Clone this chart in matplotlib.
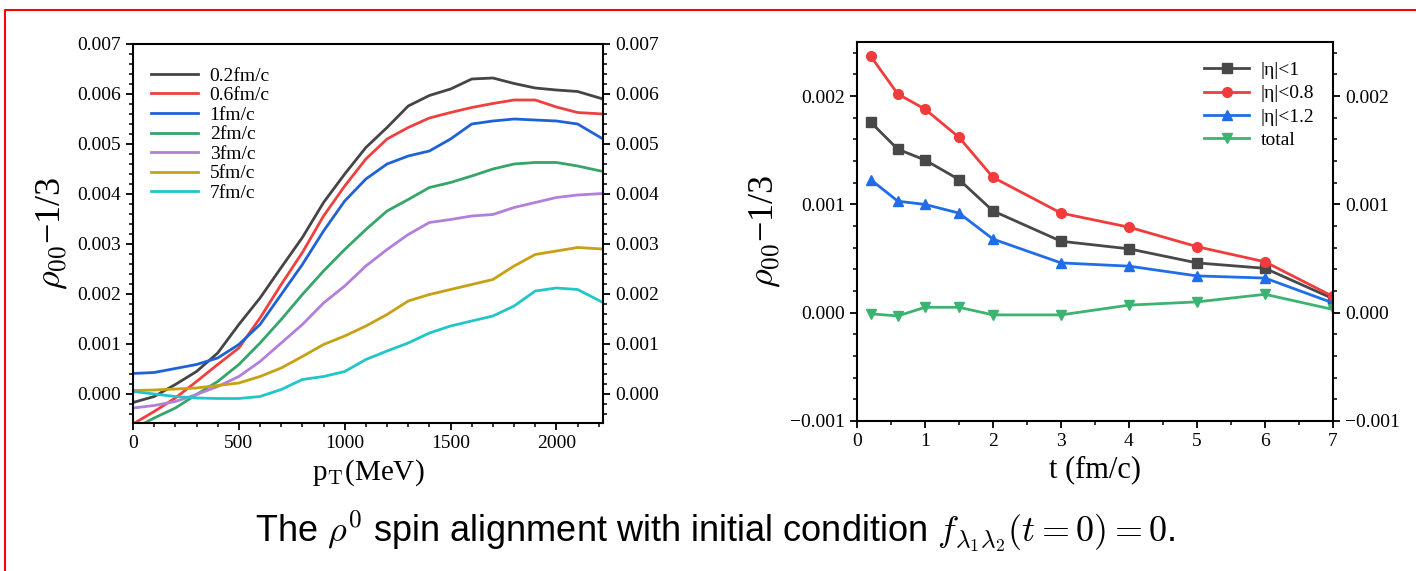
import matplotlib
matplotlib.use("Agg")
import matplotlib.pyplot as plt
from matplotlib.ticker import MultipleLocator, FuncFormatter
from matplotlib.lines import Line2D

plt.rcParams['font.family'] = ['Liberation Serif', 'DejaVu Serif']
plt.rcParams['mathtext.fontset'] = 'cm'

# left panel: rho00 - 1/3 vs pT for several times
pt = [0, 100, 200, 300, 400, 500, 600, 700, 800, 900, 1000, 1100,
      1200, 1300, 1400, 1500, 1600, 1700, 1800, 1900, 2000, 2100, 2220]
rho_02 = [-0.00017, -0.00005, 0.00019, 0.00045, 0.00082, 0.00139, 0.00192, 0.00253,
          0.00313, 0.00383, 0.0044, 0.00493, 0.00533, 0.00576, 0.00597, 0.0061,
          0.0063, 0.00632, 0.00621, 0.00612, 0.00608, 0.00605, 0.0059]
rho_06 = [-0.0006, -0.00035, -0.00008, 0.00025, 0.00059, 0.00092, 0.00152, 0.00219,
          0.00283, 0.00356, 0.00416, 0.0047, 0.0051, 0.00533, 0.00552, 0.00563,
          0.00573, 0.00581, 0.00588, 0.00588, 0.00574, 0.00563, 0.0056]
rho_1 = [0.00041, 0.00043, 0.00051, 0.00059, 0.00072, 0.00099, 0.00139, 0.00199,
         0.00259, 0.00326, 0.00386, 0.0043, 0.0046, 0.00476, 0.00486, 0.0051,
         0.0054, 0.00546, 0.0055, 0.00548, 0.00546, 0.0054, 0.0051]
rho_2 = [-0.0007, -0.00048, -0.00028, -0.00001, 0.00025, 0.00059, 0.00102, 0.00149,
         0.00199, 0.00246, 0.00289, 0.00329, 0.00366, 0.00389, 0.00413, 0.00423,
         0.00436, 0.0045, 0.0046, 0.00463, 0.00463, 0.00456, 0.00445]
rho_3 = [-0.00028, -0.00023, -0.00015, -0.00001, 0.00015, 0.00035, 0.00065, 0.00102,
         0.00139, 0.00182, 0.00216, 0.00256, 0.00289, 0.00319, 0.00343, 0.00349,
         0.00356, 0.00359, 0.00373, 0.00383, 0.00393, 0.00398, 0.00401]
rho_5 = [0.00007, 0.00008, 0.0001, 0.00012, 0.00017, 0.00022, 0.00035, 0.00052,
         0.00075, 0.00099, 0.00116, 0.00136, 0.00159, 0.00186, 0.00199, 0.00209,
         0.00219, 0.00229, 0.00256, 0.00279, 0.00286, 0.00293, 0.0029]
rho_7 = [0.00005, 0.0, -0.00005, -0.00008, -0.00009, -0.00009, -0.00005, 0.00009,
         0.00029, 0.00035, 0.00045, 0.00069, 0.00086, 0.00102, 0.00122, 0.00136,
         0.00146, 0.00156, 0.00176, 0.00206, 0.00212, 0.00209, 0.00183]
left_labels = ['0.2fm/c', '0.6fm/c', '1fm/c', '2fm/c', '3fm/c', '5fm/c', '7fm/c']
left_colors = ['#454545', '#ef4040', '#1f62d6', '#35a56a', '#b27fdc', '#c8a014', '#22c6c8']

# right panel: rho00 - 1/3 vs t for rapidity cuts
t = [0.2, 0.6, 1, 1.5, 2, 3, 4, 5, 6, 7]
eta_1 = [0.00176, 0.00151, 0.00141, 0.00123, 0.00094, 0.00066, 0.00059, 0.00046, 0.00041, 0.00013]
eta_08 = [0.00237, 0.00202, 0.00188, 0.00162, 0.00125, 0.00092, 0.00079, 0.00061, 0.00047, 0.00015]
eta_12 = [0.00123, 0.00103, 0.001, 0.00092, 0.00068, 0.00046, 0.00043, 0.00034, 0.00032, 0.00009]
total = [-0.00001, -0.00003, 0.00005, 0.00005, -0.00002, -0.00002, 0.00007, 0.0001, 0.00017, 0.00003]
right_labels = ['|\u03b7|<1', '|\u03b7|<0.8', '|\u03b7|<1.2', 'total']
right_colors = ['#484848', '#f03c3c', '#1f6ee8', '#3cb371']
right_markers = ['s', 'o', '^', 'v']

ylab = r'$\rho_{00}$' + '\u22121/3'
yfmt = FuncFormatter(lambda v, pos: ('%.3f' % v).replace('-', '\u2212'))


def style_axes(ax):
    for s in ax.spines.values():
        s.set_linewidth(1.5)
    ax.tick_params(which='major', direction='out', length=5, width=1.3, labelsize=14,
                   left=True, right=True, labelright=True, top=False)
    ax.tick_params(which='minor', direction='out', length=3, width=1.1,
                   left=True, right=True, top=False)


fig = plt.figure(figsize=(14.16, 5.71), dpi=100)

ax1 = fig.add_axes([133 / 1416, 1 - 423 / 571, 470 / 1416, 379 / 571])
series = [rho_02, rho_06, rho_1, rho_2, rho_3, rho_5, rho_7]
for y, lab, c in zip(series, left_labels, left_colors):
    ax1.plot(pt, y, color=c, lw=2, label=lab)
ax1.set_xlim(0, 2220)
ax1.set_ylim(-0.00058, 0.007)
ax1.xaxis.set_major_locator(MultipleLocator(500))
ax1.xaxis.set_minor_locator(MultipleLocator(100))
ax1.yaxis.set_major_locator(MultipleLocator(0.001))
ax1.yaxis.set_minor_locator(MultipleLocator(0.0002))
ax1.yaxis.set_major_formatter(yfmt)
style_axes(ax1)
ax1.set_xlabel(r'p$_\mathrm{T}$(MeV)', fontsize=21, labelpad=4)
ax1.set_ylabel(ylab, fontsize=26, labelpad=6)
ax1.legend(loc='upper left', bbox_to_anchor=(0.01, 0.975), frameon=False, fontsize=14,
           handlelength=2.4, handletextpad=0.6, labelspacing=0.1, borderaxespad=0.3)

ax2 = fig.add_axes([857 / 1416, 1 - 421 / 571, 476 / 1416, 379 / 571])
for y, lab, c, m in zip([eta_1, eta_08, eta_12, total], right_labels, right_colors, right_markers):
    ax2.plot(t, y, color=c, lw=2, marker=m, markersize=7, label=lab)
ax2.set_xlim(0, 7)
ax2.set_ylim(-0.001, 0.0025)
ax2.xaxis.set_major_locator(MultipleLocator(1))
ax2.xaxis.set_minor_locator(MultipleLocator(0.5))
ax2.yaxis.set_major_locator(MultipleLocator(0.001))
ax2.yaxis.set_minor_locator(MultipleLocator(0.0002))
ax2.yaxis.set_major_formatter(yfmt)
style_axes(ax2)
ax2.set_xlabel('t (fm/c)', fontsize=22, labelpad=4)
ax2.set_ylabel(ylab, fontsize=26, labelpad=6)
ax2.legend(loc='upper right', bbox_to_anchor=(0.99, 0.985), frameon=False, fontsize=14,
           handlelength=2.3, handletextpad=0.6, labelspacing=0.3, borderaxespad=0.3)

fig.text(0.505, 0.07,
         r'The $\rho^0$ spin alignment with initial condition $f_{\lambda_1\lambda_2}(t=0)=0$.',
         fontsize=26, family=['Liberation Sans', 'DejaVu Sans'], ha='center', va='center')

# red frame around the slide area
fig.add_artist(Line2D([5 / 1416, 5 / 1416, 1.0], [0.0, 1 - 10 / 571, 1 - 10 / 571],
                      transform=fig.transFigure, color='red', lw=1.5))

fig.savefig('out.png', dpi=100)
